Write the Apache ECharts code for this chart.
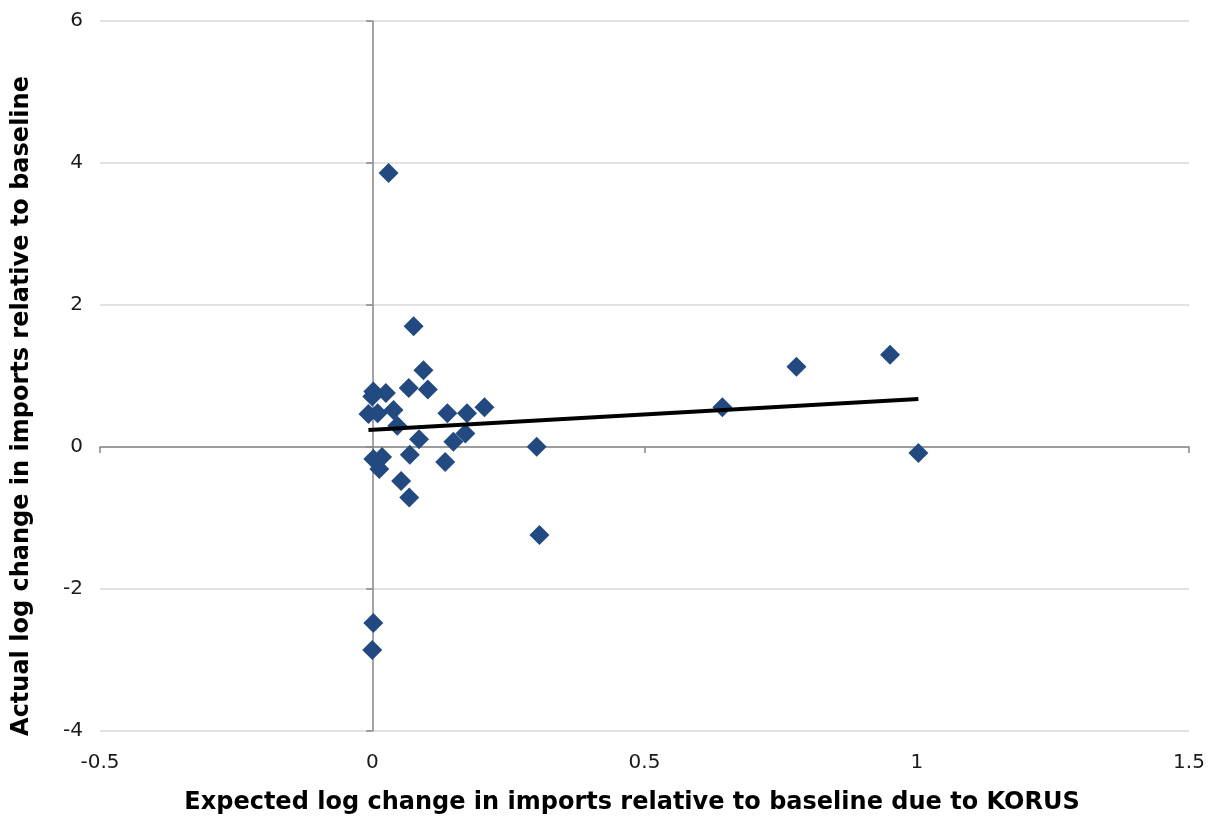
<!DOCTYPE html>
<html>
<head>
<meta charset="utf-8">
<script src="https://cdn.jsdelivr.net/npm/echarts@6/dist/echarts.min.js"></script>
<style>html,body{margin:0;padding:0;background:#fff}#c{width:1214px;height:818px}</style>
</head>
<body>
<div id="c"></div>
<script>
var xValues = [0.076,0.094,0.067,0.102,0.002,0.025,0.000,-0.007,0.010,0.039,0.046,0.138,0.174,0.206,0.086,0.149,0.171,0.302,0.002,0.018,0.013,0.069,0.134,0.053,0.068,0.002,0.000,0.030,0.307,0.643,0.779,0.951,1.003];
var yValues = [1.70,1.08,0.83,0.81,0.78,0.76,0.71,0.465,0.475,0.52,0.30,0.475,0.475,0.56,0.11,0.075,0.19,0.005,-0.17,-0.14,-0.31,-0.11,-0.21,-0.48,-0.71,-2.48,-2.86,3.86,-1.24,0.56,1.13,1.30,-0.085];
var trendX = [-0.007, 1.003];
var trendY = [0.24, 0.675];
var xTicks = [-0.5, 0, 0.5, 1, 1.5];
var yTicks = [-4, -2, 0, 2, 4, 6];
var xTitle = 'Expected log change in imports relative to baseline due to KORUS';
var yTitle = 'Actual log change in imports relative to baseline';

var pts = xValues.map(function(x,i){return [x,yValues[i]];});
var trend = trendX.map(function(x,i){return [x,trendY[i]];});
var font = '"DejaVu Sans", Verdana, sans-serif';
var chart = echarts.init(document.getElementById('c'), null, {renderer:'canvas'});
chart.setOption({
  animation:false,
  grid:{left:100,right:25,top:21,bottom:87,containLabel:false},
  graphic:[{
    type:'text', x:632, y:803, silent:true,
    style:{text:xTitle, fill:'#000', font:'bold 24px "DejaVu Sans", Verdana, sans-serif', textAlign:'center', textVerticalAlign:'middle'}
  },{
    type:'text', x:22, y:406, rotation:Math.PI/2, silent:true,
    style:{text:yTitle, fill:'#000', font:'bold 24px "DejaVu Sans", Verdana, sans-serif', textAlign:'center', textVerticalAlign:'middle'}
  }],
  xAxis:[{
    type:'value', min:xTicks[0], max:xTicks[xTicks.length-1], interval:0.5,
    position:'bottom',
    axisLine:{show:false,onZero:false}, axisTick:{show:false}, splitLine:{show:false},
    axisLabel:{color:'#1a1a1a',fontSize:20,fontFamily:font,margin:22}
  },{
    type:'value', min:xTicks[0], max:xTicks[xTicks.length-1], interval:0.5,
    position:'bottom',
    axisLine:{show:true,onZero:true,lineStyle:{color:'#868686',width:1.5}},
    axisTick:{show:true,length:6,lineStyle:{color:'#868686',width:1.5}},
    axisLabel:{show:false}, splitLine:{show:false}
  }],
  yAxis:[{
    type:'value', min:yTicks[0], max:yTicks[yTicks.length-1], interval:2,
    position:'left',
    axisLine:{show:false,onZero:false}, axisTick:{show:false},
    splitLine:{show:true,lineStyle:{color:'#d9d9d9',width:1.5}},
    axisLabel:{color:'#1a1a1a',fontSize:20,fontFamily:font,margin:17}
  },{
    type:'value', min:yTicks[0], max:yTicks[yTicks.length-1], interval:2,
    position:'left',
    axisLine:{show:true,onZero:true,lineStyle:{color:'#868686',width:1.5}},
    axisTick:{show:true,length:6,lineStyle:{color:'#868686',width:1.5}},
    axisLabel:{show:false}, splitLine:{show:false}
  }],
  series:[{
    type:'scatter', xAxisIndex:0, yAxisIndex:0, data:pts,
    symbol:'diamond', symbolSize:20,
    itemStyle:{color:'#224a80',opacity:1}, z:3
  },{
    type:'line', xAxisIndex:0, yAxisIndex:0, data:trend,
    symbol:'none', lineStyle:{color:'#000',width:4}, z:4, silent:true
  }]
});
</script>
</body>
</html>
